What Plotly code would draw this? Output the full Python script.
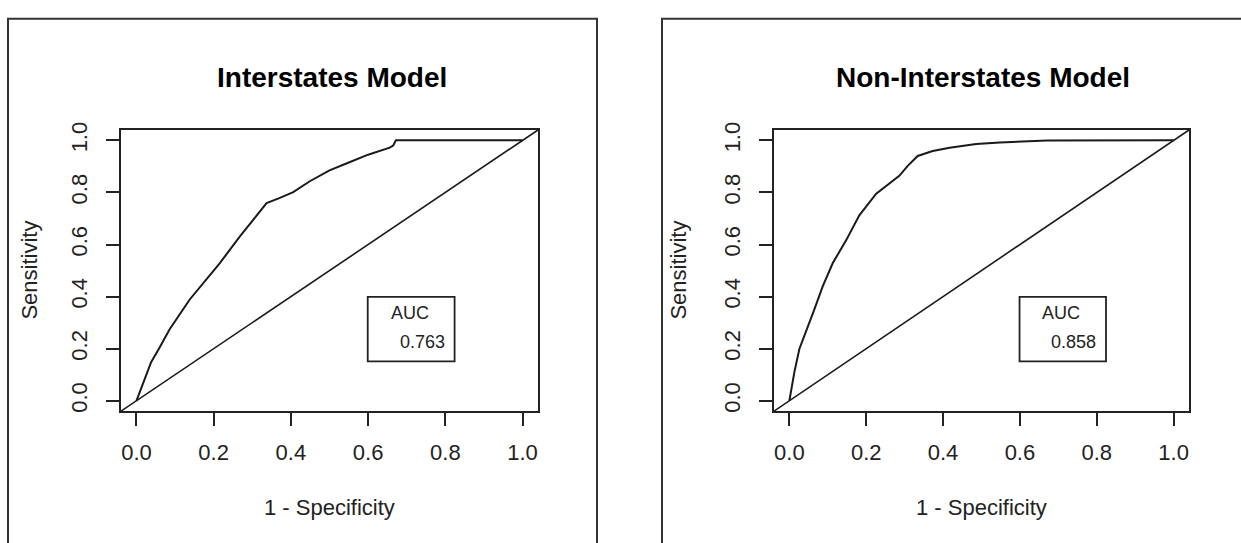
import plotly.graph_objects as go

W, H = 1241, 543

# ---------------- data ----------------
panel_titles = ["Interstates Model", "Non-Interstates Model"]
auc_values = ["0.763", "0.858"]

inter_fpr = [0, 0.014, 0.038, 0.06, 0.086, 0.138, 0.172, 0.216, 0.268, 0.302,
             0.337, 0.37, 0.406, 0.449, 0.5, 0.55, 0.6, 0.656, 0.665, 0.672, 1.0]
inter_tpr = [0, 0.055, 0.148, 0.205, 0.275, 0.389, 0.452, 0.529, 0.631, 0.693,
             0.759, 0.778, 0.801, 0.843, 0.885, 0.915, 0.945, 0.972, 0.98, 1.0, 1.0]

noninter_fpr = [0, 0.013, 0.026, 0.043, 0.065, 0.087, 0.113, 0.148, 0.182, 0.226,
                0.26, 0.286, 0.308, 0.334, 0.373, 0.417, 0.486, 0.548, 0.671, 1.0]
noninter_tpr = [0, 0.11, 0.199, 0.262, 0.351, 0.44, 0.529, 0.617, 0.712, 0.795,
                0.833, 0.864, 0.902, 0.940, 0.959, 0.972, 0.986, 0.992, 0.999, 1.0]

tick_vals = [0.0, 0.2, 0.4, 0.6, 0.8, 1.0]
tick_text = ["0.0", "0.2", "0.4", "0.6", "0.8", "1.0"]
axis_range = [-0.04, 1.04]

# ---------------- layout helpers ----------------
FONT = "Liberation Sans, Arial, sans-serif"
INK = "#1a1a1a"
TXT = "#222222"

def px(x):
    return x / W

def py(y):
    return 1 - y / H

plot_left = [121, 774]
plot_right = [538, 1189]
plot_top, plot_bottom = 124, 410

fig = go.Figure()

curves = [(inter_fpr, inter_tpr), (noninter_fpr, noninter_tpr)]
for i, (fx, fy) in enumerate(curves):
    sfx = "" if i == 0 else str(i + 1)
    fig.add_trace(go.Scatter(x=fx, y=fy, mode="lines",
                             line=dict(color=INK, width=2),
                             xaxis="x" + sfx, yaxis="y" + sfx,
                             showlegend=False, hoverinfo="skip"))

axis_common = dict(
    range=axis_range, tickvals=tick_vals, ticktext=tick_text,
    showgrid=False, zeroline=False, showline=True, mirror=True,
    linecolor="#222222", linewidth=2, ticks="outside", ticklen=13,
    tickwidth=1.8, tickcolor="#222222",
    tickfont=dict(family=FONT, size=22, color=TXT),
)

layout_axes = {}
for i in range(2):
    sfx = "" if i == 0 else str(i + 1)
    layout_axes["xaxis" + sfx] = dict(
        axis_common, domain=[px(plot_left[i]), px(plot_right[i])],
        anchor="y" + sfx, ticklabelstandoff=7)
    layout_axes["yaxis" + sfx] = dict(
        axis_common, domain=[py(plot_bottom), py(plot_top)],
        anchor="x" + sfx, tickangle=-90, ticklabelstandoff=10)

shapes = []
annotations = []
# outer device frames
frames = [(8, 597), (662, 1260)]
for (x0, x1) in frames:
    shapes.append(dict(type="rect", xref="paper", yref="paper",
                       x0=px(x0), x1=px(x1), y0=-0.1, y1=py(11),
                       line=dict(color="#333333", width=2)))

ylab_x = [30, 679]
for i in range(2):
    sfx = "" if i == 0 else str(i + 1)
    # diagonal reference line across full plot region
    shapes.append(dict(type="line", xref="x" + sfx, yref="y" + sfx,
                       x0=axis_range[0], y0=axis_range[0],
                       x1=axis_range[1], y1=axis_range[1],
                       line=dict(color=INK, width=1.6)))
    # AUC legend box
    shapes.append(dict(type="rect", xref="x" + sfx, yref="y" + sfx,
                       x0=0.599, x1=0.824, y0=0.151, y1=0.399,
                       line=dict(color="#222222", width=1.8)))
    annotations.append(dict(text="AUC", xref="x" + sfx, yref="y" + sfx,
                            x=0.708, y=0.336, showarrow=False,
                            font=dict(family=FONT, size=18, color=TXT)))
    annotations.append(dict(text=auc_values[i], xref="x" + sfx, yref="y" + sfx,
                            x=0.74, y=0.224, showarrow=False,
                            font=dict(family=FONT, size=18, color=TXT)))
    cx = (plot_left[i] + plot_right[i]) / 2
    annotations.append(dict(text="<b>" + panel_titles[i] + "</b>",
                            xref="paper", yref="paper", x=px(cx + 2), y=py(71),
                            showarrow=False, xanchor="center", yanchor="middle",
                            font=dict(family=FONT, size=28, color="#000000")))
    annotations.append(dict(text="1 - Specificity", xref="paper", yref="paper",
                            x=px(cx), y=py(508), showarrow=False,
                            xanchor="center", yanchor="middle",
                            font=dict(family=FONT, size=22, color=TXT)))
    annotations.append(dict(text="Sensitivity", xref="paper", yref="paper",
                            x=px(ylab_x[i]), y=py((plot_top + plot_bottom) / 2),
                            showarrow=False, textangle=-90,
                            xanchor="center", yanchor="middle",
                            font=dict(family=FONT, size=22, color=TXT)))

fig.update_layout(
    width=W, height=H, margin=dict(l=0, r=0, t=0, b=0),
    paper_bgcolor="white", plot_bgcolor="white",
    shapes=shapes, annotations=annotations, showlegend=False,
    **layout_axes,
)

fig.write_html("out.html")
